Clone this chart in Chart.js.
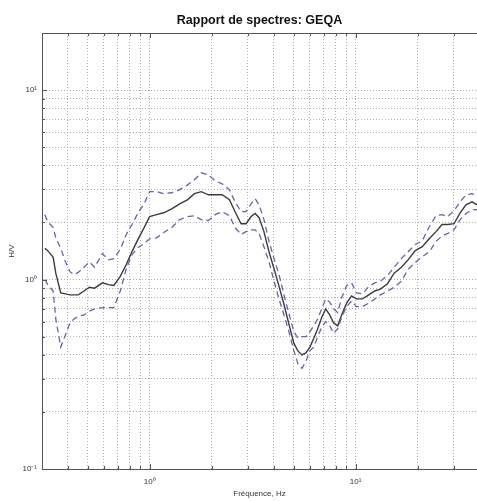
<!DOCTYPE html>
<html lang="fr">
<head>
<meta charset="utf-8">
<title>Rapport de spectres: GEQA</title>
<script src="https://cdn.jsdelivr.net/npm/chart.js@4.4.1/dist/chart.umd.min.js"></script>
<style>
  html, body { margin: 0; padding: 0; background: #fff; }
  #wrap { position: relative; width: 477px; height: 501px; }
</style>
</head>
<body>
<div id="wrap"><canvas id="hvChart"></canvas></div>
<script>
// H/V spectral ratio for station GEQA: mean curve and +/- one std dev

const freqHz = [0.31, 0.32, 0.34, 0.35, 0.37, 0.39, 0.41, 0.43, 0.45, 0.48,
    0.51, 0.54, 0.59, 0.63, 0.67, 0.72, 0.77, 0.82, 0.875, 0.94,
    1.0, 1.08, 1.17, 1.28, 1.40, 1.53, 1.65, 1.78, 1.93, 2.08,
    2.25, 2.44, 2.60, 2.78, 2.94, 3.11, 3.25, 3.40, 3.59, 3.80,
    4.02, 4.25, 4.49, 4.75, 5.02, 5.25, 5.49, 5.74, 6.0, 6.27,
    6.55, 6.85, 7.16, 7.49, 7.83, 8.19, 8.56, 9.05, 9.57, 10.1,
    10.8, 11.6, 12.4, 13.2, 14.3, 15.4, 16.7, 18.0, 19.5, 21.1,
    22.8, 24.6, 26.3, 28.1, 30.1, 32.2, 34.4, 36.8, 38.9];

const hvMean = [1.46, 1.42, 1.31, 1.08, 0.85, 0.84, 0.83, 0.83, 0.83, 0.87,
    0.91, 0.90, 0.96, 0.94, 0.93, 1.04, 1.20, 1.40, 1.62, 1.88,
    2.15, 2.20, 2.25, 2.36, 2.51, 2.64, 2.84, 2.91, 2.80, 2.80,
    2.80, 2.64, 2.28, 1.97, 1.97, 2.15, 2.23, 2.12, 1.79, 1.40,
    1.14, 0.92, 0.74, 0.58, 0.46, 0.42, 0.40, 0.41, 0.44, 0.49,
    0.55, 0.63, 0.70, 0.65, 0.59, 0.57, 0.65, 0.75, 0.82, 0.79,
    0.79, 0.83, 0.87, 0.89, 0.95, 1.08, 1.16, 1.27, 1.42, 1.49,
    1.64, 1.79, 1.95, 1.95, 1.97, 2.25, 2.48, 2.57, 2.48];

const hvUpper = [2.20, 2.02, 1.88, 1.66, 1.46, 1.24, 1.10, 1.06, 1.09, 1.16,
    1.24, 1.16, 1.37, 1.27, 1.29, 1.44, 1.73, 1.95, 2.23, 2.51,
    2.91, 2.91, 2.84, 2.87, 2.98, 3.16, 3.36, 3.66, 3.57, 3.32,
    3.20, 2.98, 2.57, 2.28, 2.28, 2.51, 2.67, 2.48, 2.07, 1.59,
    1.29, 1.06, 0.83, 0.66, 0.53, 0.49, 0.50, 0.50, 0.53, 0.57,
    0.62, 0.70, 0.79, 0.76, 0.70, 0.67, 0.80, 0.93, 0.96, 0.85,
    0.84, 0.92, 0.96, 0.98, 1.05, 1.16, 1.29, 1.40, 1.53, 1.60,
    1.90, 2.17, 2.20, 2.15, 2.31, 2.57, 2.80, 2.84, 2.73];

const hvLower = [1.00, 0.94, 0.87, 0.62, 0.44, 0.51, 0.59, 0.62, 0.64, 0.65,
    0.68, 0.70, 0.71, 0.71, 0.71, 0.87, 1.14, 1.35, 1.47, 1.55,
    1.64, 1.66, 1.77, 1.88, 2.07, 2.15, 2.17, 2.07, 2.05, 2.20,
    2.28, 2.17, 1.88, 1.73, 1.79, 1.83, 1.83, 1.75, 1.49, 1.24,
    0.98, 0.79, 0.65, 0.53, 0.42, 0.36, 0.34, 0.37, 0.42, 0.44,
    0.50, 0.56, 0.60, 0.57, 0.52, 0.55, 0.63, 0.72, 0.77, 0.72,
    0.72, 0.75, 0.79, 0.83, 0.87, 0.91, 0.98, 1.13, 1.23, 1.32,
    1.40, 1.59, 1.70, 1.75, 1.83, 2.07, 2.23, 2.34, 2.34];

// grid lines: every 1..9 step of each decade
const xGridTicks = [0.4, 0.5, 0.6, 0.7, 0.8, 0.9, 1, 2, 3, 4, 5, 6, 7, 8, 9, 10, 20, 30];
const yGridTicks = [0.1, 0.2, 0.3, 0.4, 0.5, 0.6, 0.7, 0.8, 0.9,
    1, 2, 3, 4, 5, 6, 7, 8, 9, 10, 20];
const yMin = 0.1;
const yMax = 20;

const SUP = {'-': '\u207B', '0': '\u2070', '1': '\u00B9', '2': '\u00B2', '3': '\u00B3'};

// only the powers of ten get a label, e.g. 10⁰
function decadeLabel(v) {
    const e = Math.log10(v);
    if (Math.abs(e - Math.round(e)) > 1e-9) return '';
    return '10' + String(Math.round(e)).split('').map(c => SUP[c]).join('');
}

function toPoints(values) {
    return freqHz.map((f, i) => ({x: f, y: values[i]}));
}

// box on top plus short inward tick marks, like the usual plotting tools
const frameTicks = {
    id: 'frameTicks',
    afterDatasetsDraw(chart) {
        const {ctx, chartArea: a, scales: {x, y}} = chart;
        ctx.save();
        ctx.strokeStyle = '#555';
        ctx.lineWidth = 1;
        ctx.beginPath();
        ctx.moveTo(a.left, a.top + 0.5);
        ctx.lineTo(a.right, a.top + 0.5);
        x.ticks.forEach(t => {
            const px = Math.round(x.getPixelForValue(t.value)) + 0.5;
            const len = decadeLabel(t.value) ? 5 : 3;
            ctx.moveTo(px, a.bottom);
            ctx.lineTo(px, a.bottom - len);
            ctx.moveTo(px, a.top);
            ctx.lineTo(px, a.top + len);
        });
        y.ticks.forEach(t => {
            const py = Math.round(y.getPixelForValue(t.value)) + 0.5;
            const len = decadeLabel(t.value) ? 5 : 3;
            ctx.moveTo(a.left, py);
            ctx.lineTo(a.left + len, py);
        });
        ctx.stroke();
        ctx.restore();
    }
};

const gridStyle = {color: '#b0b0b0', lineWidth: 1, drawTicks: false};
const borderStyle = {display: true, color: '#555', width: 1, dash: [1, 2]};
const tickFont = {family: 'Liberation Sans, Arial, sans-serif', size: 8};

document.addEventListener('DOMContentLoaded', function() {
    const ctx = document.getElementById('hvChart');

    new Chart(ctx, {
        type: 'line',
        data: {
            datasets: [
                {
                    label: 'H/V + \u03C3',
                    data: toPoints(hvUpper),
                    borderColor: '#6464ac',
                    borderWidth: 1.3,
                    borderDash: [6, 4]
                },
                {
                    label: 'H/V - \u03C3',
                    data: toPoints(hvLower),
                    borderColor: '#6464ac',
                    borderWidth: 1.3,
                    borderDash: [6, 4]
                },
                {
                    label: 'H/V',
                    data: toPoints(hvMean),
                    borderColor: '#3c3c3c',
                    borderWidth: 1.4
                }
            ]
        },
        options: {
            responsive: true,
            maintainAspectRatio: false,
            animation: false,
            layout: {padding: 0},
            elements: {
                point: {radius: 0},
                line: {tension: 0, fill: false}
            },
            plugins: {
                legend: {display: false},
                tooltip: {enabled: false},
                title: {
                    display: true,
                    text: 'Rapport de spectres: GEQA',
                    fullSize: false,
                    color: '#111',
                    font: {family: 'Liberation Sans, Arial, sans-serif', size: 12.5, weight: 'bold'},
                    padding: {top: 13.5, bottom: 4.5}
                }
            },
            scales: {
                x: {
                    type: 'logarithmic',
                    min: freqHz[0],
                    max: freqHz[freqHz.length - 1],
                    afterBuildTicks: scale => {
                        scale.ticks = xGridTicks.map(v => ({value: v}));
                    },
                    afterFit: scale => { scale.height = 32; },
                    grid: gridStyle,
                    border: borderStyle,
                    ticks: {
                        autoSkip: false,
                        maxRotation: 0,
                        padding: 8,
                        color: '#333',
                        font: tickFont,
                        callback: value => decadeLabel(value)
                    },
                    title: {
                        display: true,
                        text: 'Fr\u00E9quence, Hz',
                        color: '#333',
                        font: tickFont,
                        padding: {top: 0, bottom: 2}
                    }
                },
                y: {
                    type: 'logarithmic',
                    min: yMin,
                    max: yMax,
                    afterBuildTicks: scale => {
                        scale.ticks = yGridTicks.map(v => ({value: v}));
                    },
                    afterFit: scale => { scale.width = 42; },
                    grid: gridStyle,
                    border: borderStyle,
                    ticks: {
                        autoSkip: false,
                        padding: 5,
                        color: '#333',
                        font: tickFont,
                        callback: value => decadeLabel(value)
                    },
                    title: {
                        display: true,
                        text: 'H/V',
                        color: '#333',
                        font: tickFont,
                        padding: {top: 7, bottom: 0}
                    }
                }
            }
        },
        plugins: [frameTicks]
    });
});
</script>
</body>
</html>
